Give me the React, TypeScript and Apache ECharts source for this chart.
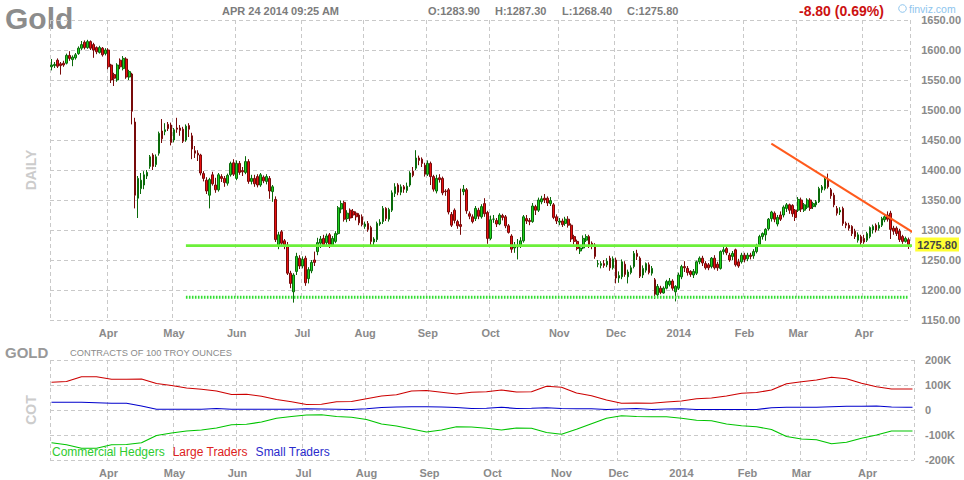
import React, { useEffect, useRef } from "react";
import * as echarts from "echarts";

// ---- Daily candles: [open, close, low, high] ----
const mar13 = [
  [1572,1575,1566,1585],[1574,1576,1570,1580],[1583,1573,1570,1586],[1577,1574,1559,1580],
  [1578,1575,1572,1582],[1578,1591,1576,1594],[1591,1586,1582,1598],[1584,1588,1573,1591],
  [1587,1592,1584,1595],[1594,1603,1592,1606],[1603,1609,1600,1615],[1613,1604,1601,1616],
  [1604,1614,1602,1617],[1614,1603,1600,1616],[1609,1600,1587,1612],[1604,1597,1593,1606],
  [1596,1604,1594,1607],[1603,1592,1589,1605],
];
const apr13 = [
  [1594,1600,1591,1603],[1600,1572,1568,1603],[1575,1550,1545,1577],[1559,1553,1540,1562],
  [1550,1575,1547,1578],[1583,1572,1568,1586],[1569,1586,1566,1590],[1585,1555,1552,1588],
  [1555,1564,1550,1567],[1560,1498,1476,1562],[1480,1358,1336,1487],[1353,1386,1320,1390],
  [1369,1383,1360,1395],[1375,1392,1368,1398],[1390,1396,1385,1400],[1406,1422,1402,1425],
  [1425,1406,1400,1428],[1409,1422,1405,1426],[1428,1461,1424,1464],[1465,1452,1445,1485],
  [1464,1467,1458,1478],[1476,1469,1465,1480],
];
const may13 = [
  [1475,1446,1441,1479],[1450,1467,1446,1470],[1470,1468,1462,1487],[1470,1466,1457,1475],
  [1468,1448,1445,1472],[1450,1473,1447,1476],[1474,1468,1455,1478],[1457,1435,1418,1462],
  [1432,1428,1420,1440],[1428,1425,1415,1433],[1425,1395,1391,1427],[1394,1386,1381,1398],
  [1383,1365,1360,1388],[1358,1384,1336,1387],[1392,1377,1374,1397],[1375,1367,1362,1387],
  [1367,1392,1364,1395],[1389,1386,1380,1393],[1386,1379,1372,1390],[1378,1391,1374,1394],
  [1392,1411,1389,1414],[1412,1393,1390,1418],
];
const jun13 = [
  [1386,1411,1383,1416],[1411,1396,1392,1415],[1399,1397,1390,1405],[1396,1414,1393,1423],
  [1414,1381,1377,1418],[1381,1386,1376,1392],[1386,1377,1372,1392],[1389,1375,1371,1393],
  [1375,1392,1372,1395],[1388,1382,1378,1391],[1381,1389,1376,1393],[1386,1365,1352,1390],
  [1364,1372,1347,1375],[1351,1284,1280,1356],[1275,1292,1268,1297],[1297,1278,1273,1300],
  [1282,1275,1268,1285],[1275,1228,1225,1280],[1228,1211,1203,1232],[1197,1225,1179,1228],
];
const jul13 = [
  [1231,1256,1225,1262],[1253,1240,1235,1258],[1240,1251,1236,1256],[1253,1212,1207,1257],
  [1219,1234,1211,1238],[1232,1246,1228,1250],[1250,1246,1240,1264],[1264,1279,1258,1287],
  [1278,1285,1270,1290],[1286,1276,1272,1292],[1279,1290,1275,1294],[1292,1276,1270,1295],
  [1275,1286,1272,1290],[1281,1294,1278,1298],[1294,1337,1292,1340],[1335,1344,1328,1349],
  [1346,1318,1314,1349],[1319,1328,1313,1333],[1333,1320,1315,1336],[1331,1325,1320,1335],
  [1328,1322,1316,1331],[1325,1312,1308,1328],
];
const aug13 = [
  [1322,1309,1306,1326],[1306,1310,1302,1314],[1311,1301,1297,1315],[1304,1281,1275,1307],
  [1280,1285,1272,1288],[1284,1311,1280,1314],[1310,1313,1307,1318],[1314,1336,1310,1340],
  [1336,1319,1315,1338],[1318,1334,1314,1337],[1333,1362,1330,1366],[1361,1372,1355,1378],
  [1375,1363,1358,1378],[1363,1372,1358,1376],[1372,1368,1362,1375],[1366,1373,1362,1379],
  [1375,1395,1372,1398],[1398,1391,1388,1405],[1403,1420,1400,1433],[1420,1416,1408,1424],
  [1418,1411,1405,1421],[1408,1393,1389,1412],
];
const sep13 = [
  [1393,1411,1390,1416],[1411,1389,1375,1414],[1389,1368,1364,1392],[1365,1386,1361,1392],
  [1387,1384,1379,1393],[1386,1362,1358,1389],[1365,1364,1357,1368],[1367,1330,1326,1370],
  [1326,1308,1305,1330],[1333,1316,1311,1336],[1314,1307,1302,1317],[1309,1306,1292,1369],
  [1364,1368,1358,1375],[1367,1332,1327,1370],[1327,1323,1318,1331],[1322,1314,1311,1326],
  [1319,1336,1315,1340],[1333,1323,1318,1337],[1322,1339,1319,1343],[1344,1327,1322,1353],
];
const oct13 = [
  [1329,1286,1277,1332],[1286,1317,1283,1324],[1318,1318,1312,1325],[1316,1310,1305,1320],
  [1310,1325,1308,1328],[1324,1321,1316,1327],[1322,1307,1303,1325],[1307,1296,1294,1310],
  [1290,1268,1262,1293],[1270,1274,1262,1280],[1272,1273,1251,1285],[1275,1282,1270,1288],
  [1282,1322,1279,1325],[1319,1315,1310,1325],[1316,1314,1308,1320],[1314,1340,1312,1345],
  [1339,1333,1325,1342],[1333,1350,1330,1354],[1347,1352,1343,1357],[1353,1350,1345,1360],
  [1353,1345,1340,1356],[1344,1349,1340,1355],[1342,1321,1318,1345],
];
const nov13 = [
  [1322,1315,1310,1326],[1313,1315,1308,1320],[1315,1309,1305,1319],[1311,1318,1307,1322],
  [1318,1308,1304,1323],[1308,1285,1280,1311],[1289,1281,1276,1292],[1281,1269,1266,1284],
  [1265,1270,1260,1273],[1270,1286,1268,1291],[1283,1289,1280,1293],[1289,1273,1270,1292],
  [1278,1273,1268,1281],[1275,1256,1252,1278],[1243,1244,1238,1250],[1241,1244,1236,1248],
  [1244,1241,1237,1250],[1242,1248,1238,1253],[1253,1237,1232,1257],[1237,1252,1234,1256],
];
const dec13 = [
  [1250,1220,1211,1254],[1220,1224,1212,1231],[1222,1247,1218,1251],[1243,1226,1222,1248],
  [1222,1230,1211,1234],[1229,1237,1226,1241],[1239,1261,1236,1265],[1261,1256,1250,1267],
  [1253,1223,1220,1256],[1225,1236,1220,1241],[1233,1244,1229,1246],[1242,1229,1226,1246],
  [1228,1236,1224,1240],[1217,1193,1185,1220],[1192,1206,1187,1210],[1203,1196,1193,1207],
  [1195,1203,1194,1206],[1203,1214,1201,1217],[1209,1215,1206,1220],[1215,1203,1199,1218],
  [1197,1206,1181,1208],
];
const jan14 = [
  [1203,1225,1200,1229],[1222,1239,1218,1242],[1239,1237,1230,1248],[1236,1229,1224,1240],
  [1231,1226,1222,1233],[1225,1231,1220,1235],[1228,1247,1225,1249],[1247,1253,1243,1256],
  [1253,1245,1240,1257],[1244,1237,1234,1248],[1242,1237,1233,1245],[1239,1253,1236,1255],
  [1253,1237,1234,1258],[1243,1237,1232,1247],[1236,1264,1234,1266],[1264,1267,1259,1272],
  [1269,1262,1258,1273],[1258,1250,1247,1262],[1256,1261,1250,1265],[1267,1242,1239,1269],
  [1247,1240,1237,1252],
];
const feb14 = [
  [1247,1258,1244,1262],[1258,1251,1246,1262],[1252,1258,1248,1262],[1258,1256,1251,1262],
  [1257,1264,1252,1268],[1264,1274,1261,1277],[1276,1289,1273,1292],[1289,1294,1284,1296],
  [1292,1301,1282,1303],[1302,1318,1299,1320],[1319,1330,1314,1332],[1328,1318,1313,1331],
  [1310,1321,1306,1325],[1325,1318,1315,1331],[1325,1338,1321,1341],[1336,1342,1330,1345],
  [1342,1333,1327,1344],[1341,1327,1322,1343],[1333,1321,1315,1335],
];
const mar14 = [
  [1333,1351,1330,1355],[1350,1335,1330,1354],[1333,1342,1330,1345],[1338,1350,1335,1353],
  [1350,1336,1332,1353],[1339,1344,1335,1347],[1342,1347,1338,1350],[1347,1369,1345,1372],
  [1367,1372,1362,1375],[1369,1385,1366,1388],[1383,1372,1369,1394],[1367,1357,1352,1370],
  [1358,1342,1338,1362],[1336,1328,1324,1340],[1330,1333,1325,1338],[1336,1311,1307,1339],
  [1311,1308,1303,1314],[1308,1303,1299,1312],[1306,1294,1290,1308],[1298,1289,1285,1302],
  [1283,1292,1279,1296],
];
const apr14 = [
  [1289,1279,1275,1292],[1286,1280,1277,1292],[1283,1294,1280,1297],[1289,1304,1286,1306],
  [1300,1306,1294,1309],[1308,1300,1296,1311],[1303,1308,1299,1313],[1308,1319,1305,1322],
  [1317,1322,1313,1326],[1325,1318,1314,1331],[1328,1301,1285,1332],[1303,1298,1292,1307],
  [1303,1294,1290,1306],[1298,1284,1280,1302],[1289,1281,1277,1292],[1281,1286,1279,1289],
  [1283.9,1275.8,1268.4,1287.3],
];

// ---- Month labels (category index of the month gridline) ----
const monthIdx = [19, 41, 62, 84, 105, 126, 147, 170, 189, 210, 232, 250, 272];
const monthNames = ["Apr", "May", "Jun", "Jul", "Aug", "Sep", "Oct", "Nov", "Dec", "2014", "Feb", "Mar", "Apr"];

// ---- Drawn levels (x in trading-day index) ----
const supportLevel = 1274;
const supportLine = [[45, supportLevel], [291, supportLevel]];
const lowLevel = 1188;
const lowLine = [[45, lowLevel], [287, lowLevel]];
const trendLine = [[241, 1444], [291, 1288]];
const lastClose = 1275.8;

// ---- COT (weekly, thousands of contracts) ----
const cotIdx = [0,5,10,15,20,25,30,35,40,45,50,55,60,65,70,75,80,85,90,95,100,105,110,115,120,125,130,135,140,145,150,155,160,165,170,175,180,185,190,195,200,205,210,215,220,225,230,235,240,245,250,255,260,265,270,275,280,285,287];
const largeTraders = [111,114,133,133,123,123,124,106,98,88,83,76,62,63,55,42,33,22,23,33,34,45,56,61,76,78,71,64,71,73,80,72,73,95,91,68,57,40,27,28,27,32,36,45,48,56,67,70,80,105,113,120,131,125,107,93,84,84,84];
const smallTraders = [31,31,31,29,27,27,16,3,3,3,3,6,3,3,3,3,3,5,4,3,2,5,10,12,13,13,12,10,6,7,11,6,7,9,6,5,5,2,4,6,2,4,5,2,2,2,2,2,9,11,11,11,13,15,15,16,12,11,11];
const commercialHedgers = [-131,-139,-153,-153,-139,-138,-131,-102,-92,-84,-80,-72,-59,-57,-48,-33,-26,-20,-19,-26,-29,-38,-56,-64,-76,-88,-80,-67,-68,-73,-80,-72,-73,-90,-97,-77,-55,-33,-23,-26,-27,-27,-33,-41,-43,-56,-63,-67,-78,-106,-116,-119,-135,-129,-113,-100,-84,-84,-84];

const header = {
  title: "Gold",
  stamp: "APR 24 2014 09:25 AM",
  open: "O:1283.90",
  high: "H:1287.30",
  low: "L:1268.40",
  close: "C:1275.80",
  change: "-8.80 (0.69%)",
};

const FONT = "'Liberation Sans', Arial, Helvetica, sans-serif";
const GRID = "#c9c9c9";
const LABEL = "#8a8a8a";

export default function App() {
  const ref = useRef<HTMLDivElement>(null);

  useEffect(() => {
    if (!ref.current) return;
    const chart = echarts.init(ref.current, undefined, { renderer: "svg" });

    const ohlc = [
      ...mar13, ...apr13, ...may13, ...jun13, ...jul13, ...aug13, ...sep13,
      ...oct13, ...nov13, ...dec13, ...jan14, ...feb14, ...mar14, ...apr14,
    ];
    const n = ohlc.length;
    const categories = ohlc.map((_, i) => String(i));
    const labelMap: Record<number, string> = {};
    monthIdx.forEach((v, i) => (labelMap[v] = monthNames[i]));
    const isMonth = (i: number) => labelMap[i] !== undefined;

    const xAxisFor = (g: number) => ({
      type: "category",
      gridIndex: g,
      data: categories,
      boundaryGap: true,
      axisLine: { show: false },
      axisTick: { show: false },
      axisLabel: {
        interval: (i: number) => isMonth(i),
        formatter: (_v: string, i: number) => labelMap[i] || "",
        color: LABEL,
        fontWeight: "bold",
        fontSize: 11,
        fontFamily: FONT,
        margin: 7,
      },
      splitLine: {
        show: true,
        interval: (i: number) => i === 0 || isMonth(i),
        lineStyle: { color: GRID, type: [4, 3], width: 1 },
      },
    });

    const cotSeries = (name: string, vals: number[], color: string) => ({
      name,
      type: "line",
      xAxisIndex: 1,
      yAxisIndex: 1,
      data: cotIdx.map((x, i) => [x, vals[i] * 1000]),
      showSymbol: false,
      symbol: "none",
      lineStyle: { color, width: 1.2 },
      itemStyle: { color },
      silent: true,
    });

    const drawnLine = (data: number[][], color: string, width: number, type: any) => ({
      type: "line",
      xAxisIndex: 2,
      yAxisIndex: 0,
      data,
      clip: false,
      silent: true,
      showSymbol: false,
      symbol: "none",
      lineStyle: { color, width, type },
      z: 3,
    });

    const text = (t: string, x: number, y: number, font: string, fill: string, extra: any = {}) => ({
      type: "text",
      x,
      y,
      silent: true,
      style: { text: t, font, fill, textVerticalAlign: "middle", ...extra },
    });

    chart.setOption({
      animation: false,
      backgroundColor: "#ffffff",
      textStyle: { fontFamily: FONT },
      grid: [
        { left: 50, right: 50, top: 20, height: 300 },
        { left: 50, right: 50, top: 360, height: 100 },
      ],
      xAxis: [
        xAxisFor(0),
        xAxisFor(1),
        { type: "value", gridIndex: 0, min: -0.5, max: n - 0.5, show: false, splitLine: { show: false } },
      ],
      yAxis: [
        {
          type: "value",
          gridIndex: 0,
          position: "right",
          min: 1150,
          max: 1650,
          interval: 50,
          axisLine: { show: false },
          axisTick: { show: false },
          axisLabel: {
            formatter: (v: number) => v.toFixed(2),
            color: LABEL,
            fontWeight: "bold",
            fontSize: 11,
            fontFamily: FONT,
            margin: 11,
          },
          splitLine: { show: true, lineStyle: { color: GRID, type: [4, 3] } },
        },
        {
          type: "value",
          gridIndex: 1,
          position: "right",
          min: -200000,
          max: 200000,
          interval: 100000,
          axisLine: { show: false },
          axisTick: { show: false },
          axisLabel: {
            formatter: (v: number) => (v === 0 ? "0" : v / 1000 + "K"),
            color: LABEL,
            fontWeight: "bold",
            fontSize: 11,
            fontFamily: FONT,
            margin: 11,
          },
          splitLine: { show: true, lineStyle: { color: GRID, type: [4, 3] } },
        },
      ],
      legend: {
        left: 47,
        top: 445,
        padding: 0,
        itemWidth: 0,
        itemHeight: 14,
        itemGap: 3,
        icon: "rect",
        selectedMode: false,
        textStyle: { fontSize: 12, fontFamily: FONT },
        data: [
          { name: "Commercial Hedgers", textStyle: { color: "#2ecc2e" } },
          { name: "Large Traders", textStyle: { color: "#dd2222" } },
          { name: "Small Traders", textStyle: { color: "#2a2acc" } },
        ],
      },
      series: [
        {
          name: "Gold",
          type: "candlestick",
          xAxisIndex: 0,
          yAxisIndex: 0,
          data: ohlc,
          barWidth: 2.2,
          silent: true,
          itemStyle: {
            color: "#1fd21f",
            color0: "#ea1010",
            borderColor: "#0a6a0a",
            borderColor0: "#780a0a",
            borderWidth: 1,
          },
          markLine: {
            silent: true,
            animation: false,
            symbol: ["none", "none"],
            data: [
              {
                yAxis: lastClose,
                lineStyle: { color: "rgba(0,0,0,0)", width: 1 },
                label: {
                  show: true,
                  position: "end",
                  distance: 5,
                  formatter: lastClose.toFixed(2),
                  backgroundColor: "#ffff33",
                  color: "#444444",
                  fontWeight: "bold",
                  fontSize: 11,
                  fontFamily: FONT,
                  padding: [2, 2, 1, 2],
                },
              },
            ],
          },
        },
        drawnLine(supportLine, "#6cf03a", 2.6, "solid"),
        drawnLine(lowLine, "#33dd33", 3, [1.6, 1.4]),
        drawnLine(trendLine, "#ff5a1c", 2, "solid"),
        cotSeries("Commercial Hedgers", commercialHedgers, "#00c400"),
        cotSeries("Large Traders", largeTraders, "#cc0000"),
        cotSeries("Small Traders", smallTraders, "#0000cc"),
      ],
      graphic: [
        text(header.title, 5, 18, `bold 30px ${FONT}`, "#8c8c8c"),
        text(header.stamp, 222, 11, `bold 11px ${FONT}`, "#7c7c7c"),
        text(header.open, 428, 11, `bold 11px ${FONT}`, "#7c7c7c"),
        text(header.high, 495, 11, `bold 11px ${FONT}`, "#7c7c7c"),
        text(header.low, 562, 11, `bold 11px ${FONT}`, "#7c7c7c"),
        text(header.close, 627, 11, `bold 11px ${FONT}`, "#7c7c7c"),
        text(header.change, 799, 11, `bold 14px ${FONT}`, "#cc1111"),
        {
          type: "circle",
          silent: true,
          shape: { cx: 902.5, cy: 8.5, r: 3.8 },
          style: { fill: "none", stroke: "#8ec5ee", lineWidth: 1 },
        },
        text("finviz.com", 909, 9, `10.5px ${FONT}`, "#8ec5ee"),
        { ...text("DAILY", 31, 170, `bold 14px ${FONT}`, "#cccccc", { textAlign: "center" }), rotation: Math.PI / 2 },
        text("GOLD", 5, 352, `bold 15px ${FONT}`, "#999999"),
        text("CONTRACTS OF 100 TROY OUNCES", 70, 353, `9.3px ${FONT}`, "#8a8a8a"),
        { ...text("COT", 31, 410, `bold 14px ${FONT}`, "#cccccc", { textAlign: "center" }), rotation: Math.PI / 2 },
      ],
    });

    return () => chart.dispose();
  }, []);

  return (
    <div
      ref={ref}
      style={{ position: "fixed", left: 0, top: 0, width: 964, height: 480, background: "#fff" }}
    />
  );
}
